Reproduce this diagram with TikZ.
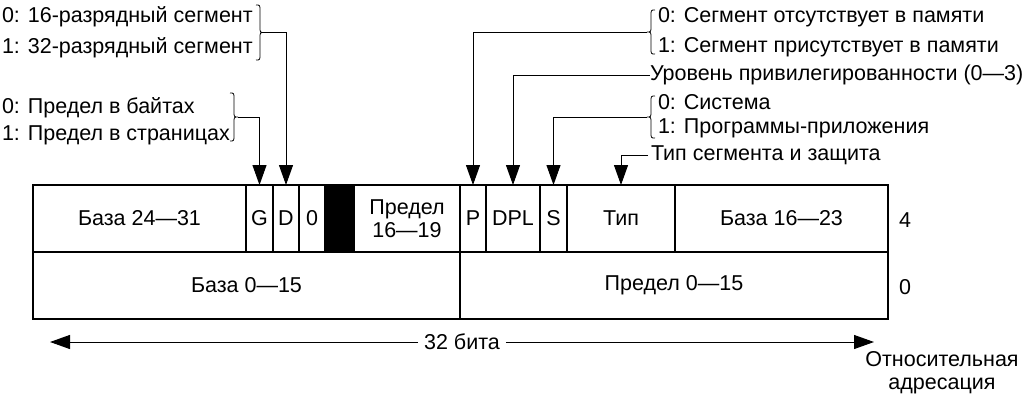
\documentclass[tikz,border=0pt]{standalone}
\usepackage{fontspec}
\setmainfont{Liberation Sans}
\usetikzlibrary{arrows.meta}
% curly brace: #1 = x of the ends, #2 = top y, #3 = bottom y, #4 = signed depth (tip at #1+#4)
\newcommand{\mybrace}[4]{%
 \draw[brc] (#1,#2) .. controls ({#1+#4/2},#2) .. ({#1+#4/2},{#2+6})
  -- ({#1+#4/2},{(#2+#3)/2-6}) .. controls ({#1+#4/2},{(#2+#3)/2}) .. ({#1+#4},{(#2+#3)/2})
  .. controls ({#1+#4/2},{(#2+#3)/2}) .. ({#1+#4/2},{(#2+#3)/2+6})
  -- ({#1+#4/2},{#3-6}) .. controls ({#1+#4/2},#3) .. (#1,#3);}
\begin{document}
\begin{tikzpicture}[x=1bp,y=-1bp,
 every node/.style={font=\fontsize{21.5bp}{23bp}\selectfont, inner sep=0pt, outer sep=0pt},
 cell/.style={draw, line width=1.1bp, minimum height=67bp, anchor=center},
 lbl/.style={anchor=west},
 arr/.style={line width=1bp, -{Triangle[length=20bp,width=14bp]}},
 brc/.style={line width=0.8bp}]
\useasboundingbox (0,0) rectangle (1029,397);
% top row
\node[cell, minimum width=213bp] (b2431) at (139.5,218.5) {База 24—31};
\node[cell, minimum width=27bp] (G) at (259.5,218.5) {G};
\node[cell, minimum width=26bp] (D) at (286,218.5) {D};
\node[cell, minimum width=26bp] (Z) at (312,218.5) {0};
\node[cell, minimum width=29bp, fill=black] (blk) at (339.5,218.5) {};
\node[cell, minimum width=106bp, align=center] (lim) at (407,218.5) {Предел\\16—19};
\node[cell, minimum width=26bp] (P) at (473,218.5) {P};
\node[cell, minimum width=54bp] (DPL) at (513,218.5) {DPL};
\node[cell, minimum width=27bp] (S) at (553.5,218.5) {S};
\node[cell, minimum width=108bp] (typ) at (621,218.5) {Тип};
\node[cell, minimum width=213bp] (b1623) at (781.5,218.5) {База 16—23};
% bottom row
\node[cell, minimum width=427bp] (b015) at (246.5,285.5) {База 0—15};
\node[cell, minimum width=428bp] (l015) at (674,285.5) {Предел 0—15};
\node (n4) at (905,220) {4};
\node (n0) at (905,287) {0};
% left annotations
\node[lbl] (d0) at (2,17) {0: 16-разрядный сегмент};
\node[lbl] (d1) at (2,48) {1: 32-разрядный сегмент};
\mybrace{256}{5}{60}{8}
\coordinate (bD) at (264,32.5);
\draw[arr] (bD) -| (D.north);
\node[lbl] (g0) at (2,108) {0: Предел в байтах};
\node[lbl] (g1) at (2,135) {1: Предел в страницах};
\mybrace{230}{93}{141}{8}
\coordinate (bG) at (238,117);
\draw[arr] (bG) -| (G.north);
% right annotations
\node[lbl] (p0) at (658,17) {0: Сегмент отсутствует в памяти};
\node[lbl] (p1) at (658,47) {1: Сегмент присутствует в памяти};
\mybrace{655}{10}{54}{-8}
\coordinate (bP) at (647,32);
\draw[arr] (bP) -| (P.north);
\node[lbl] (dpl) at (650,75) {Уровень привилегированности (0—3)};
\draw[arr] (dpl.west) -| (DPL.north);
\node[lbl] (s0) at (658,102) {0: Система};
\node[lbl] (s1) at (658,128) {1: Программы-приложения};
\mybrace{655}{96}{138}{-8}
\coordinate (bS) at (647,117);
\draw[arr] (bS) -| (S.north);
\node[lbl] (tp) at (651,155) {Тип сегмента и защита};
\draw[arr] (tp.west) ++(-3,0) -| (typ.north);
% bottom arrow
\node[inner xsep=6bp] (bits) at (462,342) {32 бита};
\coordinate (aL) at (50,342);
\coordinate (aR) at (874,342);
\draw[arr] (bits.west) -- (aL);
\draw[arr] (bits.east) -- (aR);
\node[align=center] (rel) at (942,373) {Относительная\\адресация};
\end{tikzpicture}
\end{document}
